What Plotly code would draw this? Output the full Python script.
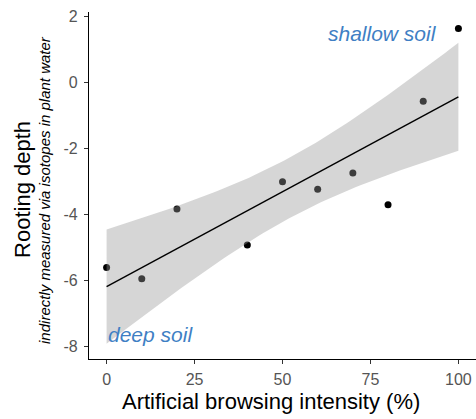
import numpy as np
import plotly.graph_objects as go

# data
browsing = [0, 10, 20, 40, 50, 60, 70, 80, 90, 100]
rooting = [-5.60, -5.94, -3.83, -4.92, -3.00, -3.23, -2.74, -3.70, -0.56, 1.64]
x_ticks = [0, 25, 50, 75, 100]
y_ticks = [-8, -6, -4, -2, 0, 2]
y_tick_text = ["-8", "-6", "-4", "-2", "0", "2"]

# linear fit + 95% CI (like geom_smooth(method="lm"))
xa = np.array(browsing, float)
ya = np.array(rooting, float)
n = len(xa)
slope, intercept = np.polyfit(xa, ya, 1)
resid = ya - (intercept + slope * xa)
s = np.sqrt(np.sum(resid ** 2) / (n - 2))
sxx = np.sum((xa - xa.mean()) ** 2)
t_crit = 2.306004  # t(0.975, df=8)
xg = np.linspace(xa.min(), xa.max(), 80)
yg = intercept + slope * xg
se = s * np.sqrt(1 / n + (xg - xa.mean()) ** 2 / sxx)
lo = yg - t_crit * se
hi = yg + t_crit * se

fig = go.Figure()
fig.add_trace(go.Scatter(x=browsing, y=rooting, mode="markers",
                         marker=dict(color="black", size=7), showlegend=False))
fig.add_trace(go.Scatter(x=np.concatenate([xg, xg[::-1]]), y=np.concatenate([hi, lo[::-1]]),
                         fill="toself", fillcolor="rgba(153,153,153,0.4)",
                         line=dict(width=0), mode="lines", showlegend=False, hoverinfo="skip"))
fig.add_trace(go.Scatter(x=xg, y=yg, mode="lines", line=dict(color="black", width=1.4),
                         showlegend=False))

tickfont = dict(family="Liberation Sans, Arial, sans-serif", size=16, color="#555555")
fig.update_xaxes(range=[-5, 105], tickvals=x_ticks, ticks="outside", ticklen=4, tickcolor="#333",
                 showline=True, linecolor="black", linewidth=1.2, showgrid=False, zeroline=False,
                 tickfont=tickfont, ticklabelstandoff=2, automargin=False)
fig.update_yaxes(range=[-8.37, 2.14], tickvals=y_ticks, ticktext=y_tick_text, ticks="outside",
                 ticklen=4, tickcolor="#333",
                 showline=True, linecolor="black", linewidth=1.2, showgrid=False, zeroline=False,
                 tickfont=tickfont, ticklabelstandoff=3, automargin=False)

blue = "#3f7fc4"
fam = "Liberation Sans, Arial, sans-serif"
fig.add_annotation(x=78.4, y=1.48, xref="x", yref="y", text="<i>shallow soil</i>", showarrow=False,
                   font=dict(family=fam, size=21, color=blue))
fig.add_annotation(x=12.5, y=-7.63, xref="x", yref="y", text="<i>deep soil</i>", showarrow=False,
                   font=dict(family=fam, size=21, color=blue))
fig.add_annotation(x=46.7, y=0, xref="x", yref="paper", yanchor="middle", yshift=-42,
                   text="Artificial browsing intensity (%)", showarrow=False,
                   font=dict(family=fam, size=22, color="black"))
fig.add_annotation(x=0, xref="paper", xanchor="center", xshift=-66, y=-3.25, yref="y",
                   yanchor="middle", textangle=-90,
                   text="Rooting depth", showarrow=False,
                   font=dict(family=fam, size=22, color="black"))
fig.add_annotation(x=0, xref="paper", xanchor="center", xshift=-44, y=-3.25, yref="y",
                   yanchor="middle", textangle=-90,
                   text="<i>indirectly measured via isotopes in plant water</i>", showarrow=False,
                   font=dict(family=fam, size=15, color="black"))

fig.update_layout(width=476, height=419, margin=dict(l=89, r=0, t=12, b=60),
                  plot_bgcolor="white", paper_bgcolor="white")
fig.write_html("out.html", config={"displayModeBar": False},
               post_script="document.body.style.margin='0';")
